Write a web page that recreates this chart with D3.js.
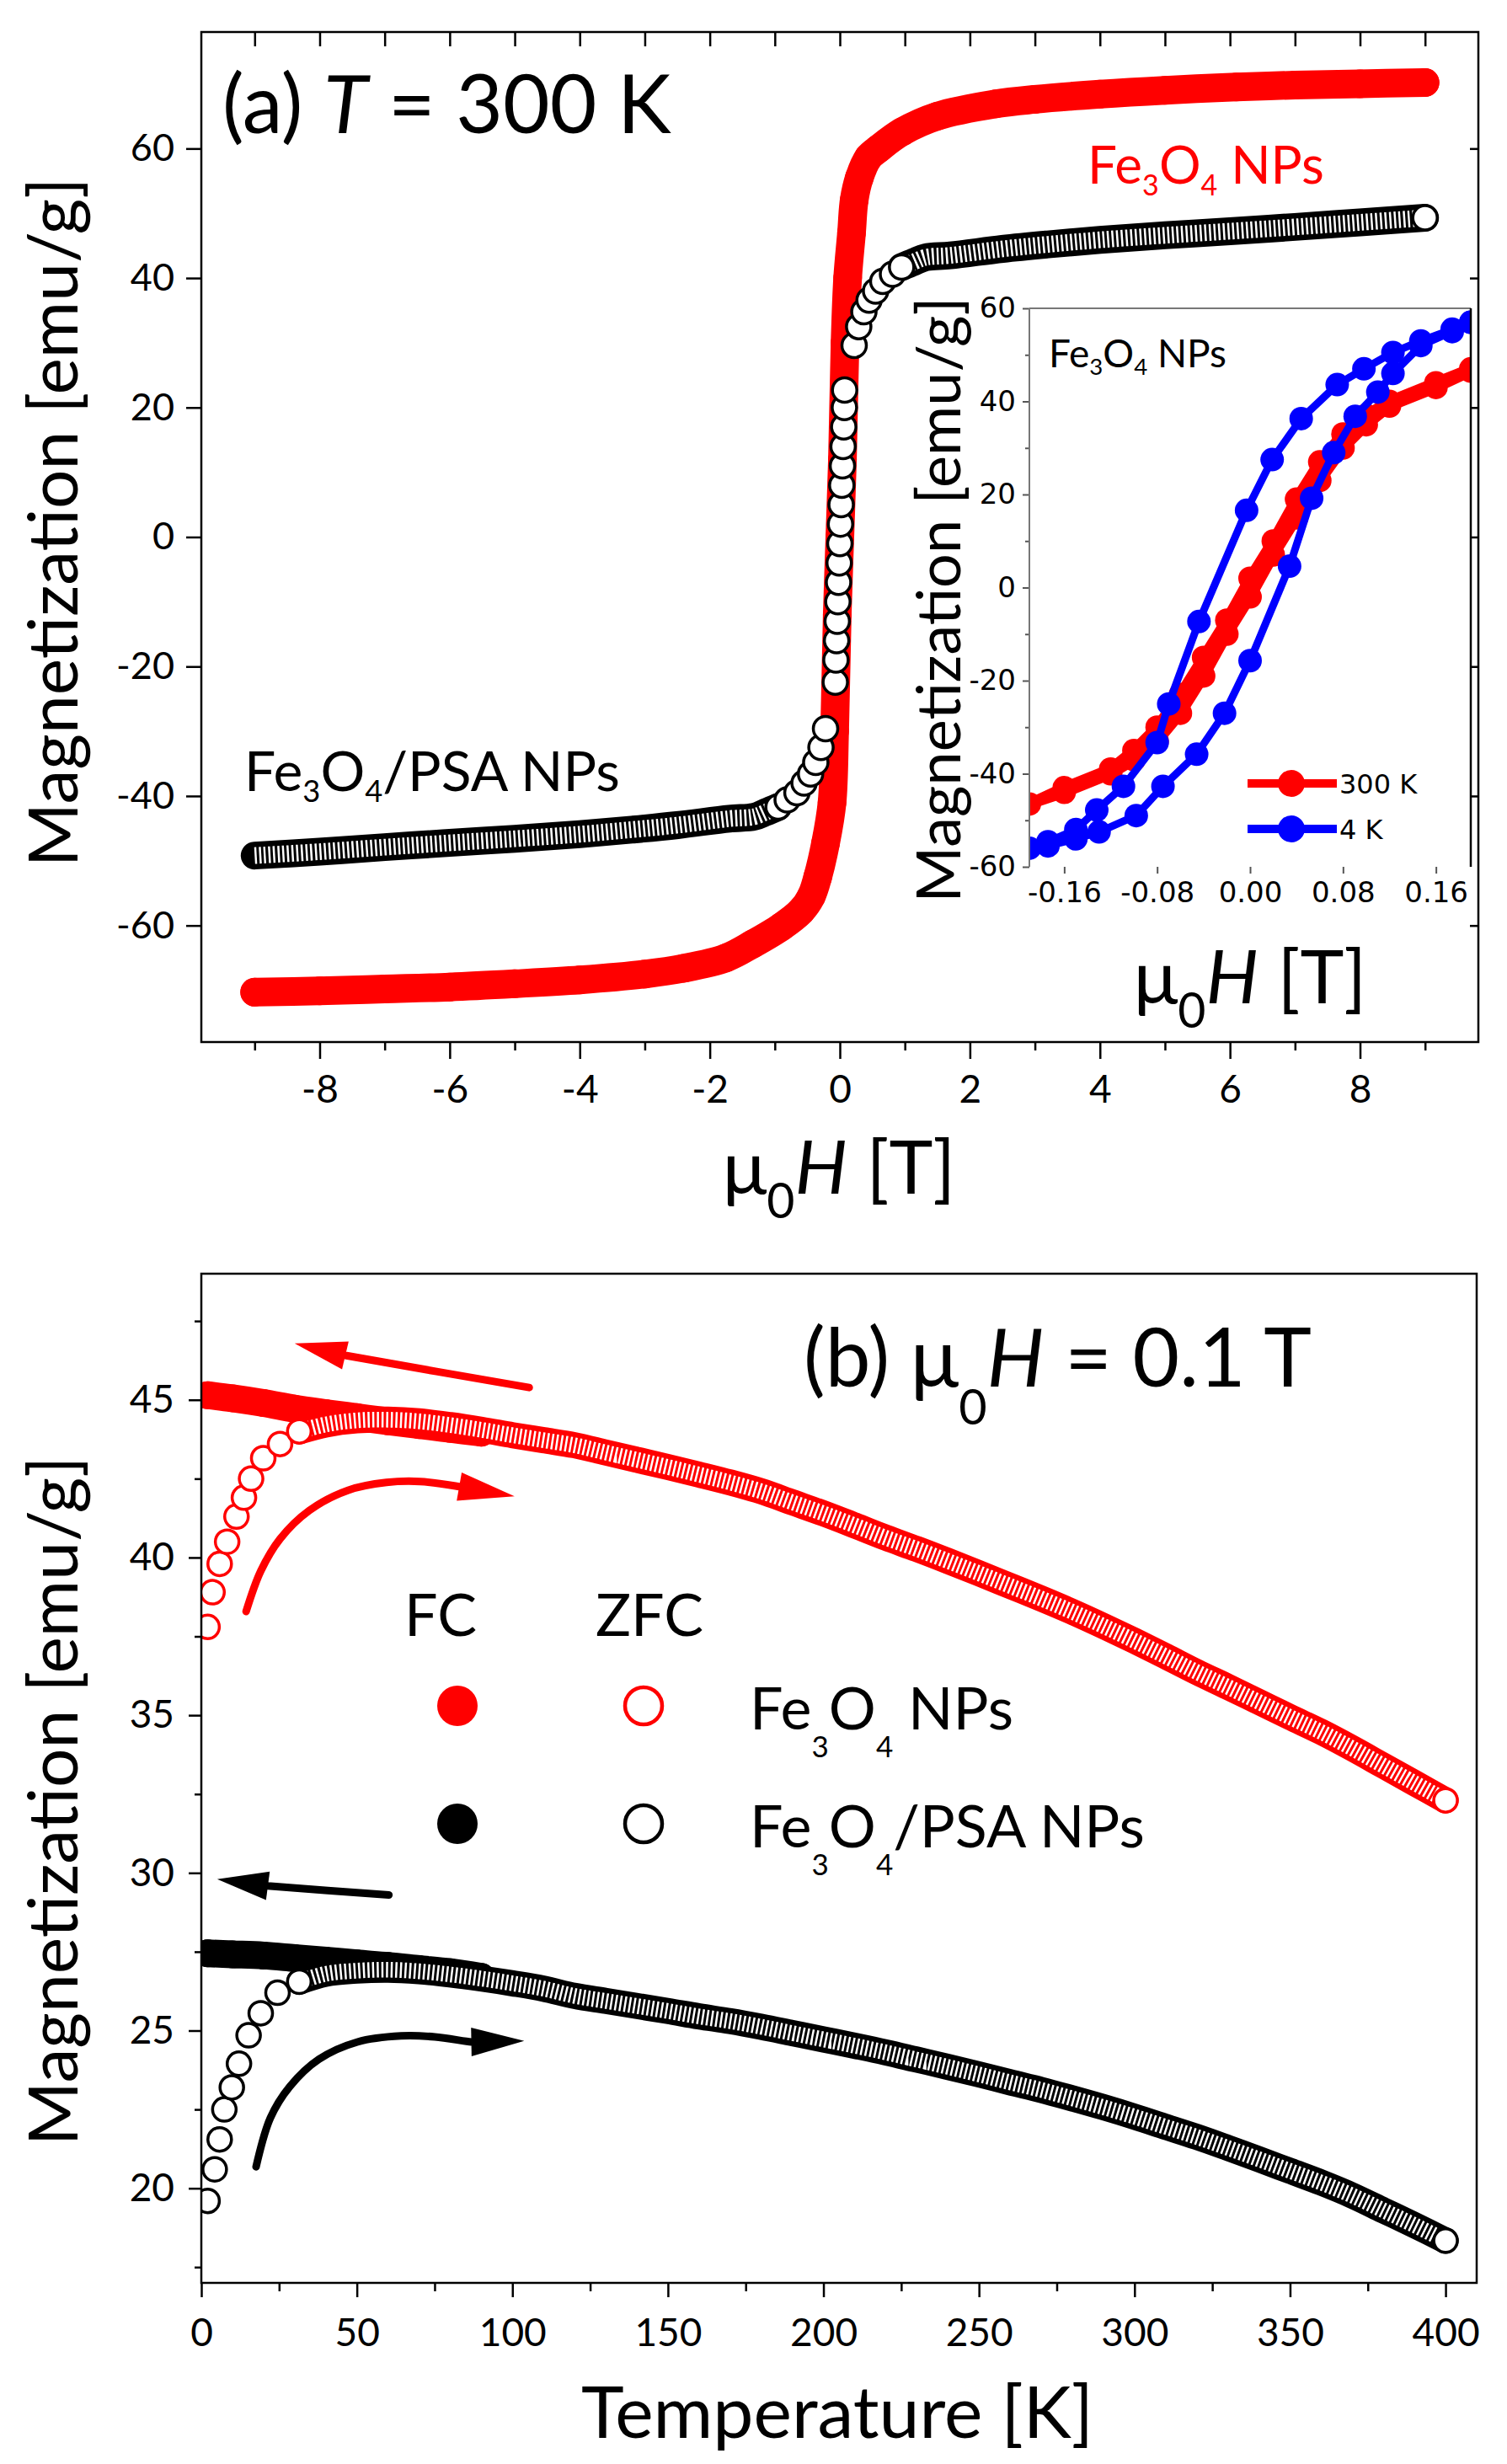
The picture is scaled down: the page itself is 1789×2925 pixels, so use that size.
<!DOCTYPE html>
<html>
<head>
<meta charset="utf-8">
<script src="https://cdn.jsdelivr.net/npm/d3@7"></script>
<style>
  body { margin: 0; background: #fff; }
  text { white-space: pre; }
</style>
</head>
<body>
<svg id="fig" width="1789" height="2925"></svg>
<script>
    // ---- panel (a): M(H) at 300 K, [H (T), M (emu/g)]
    var fe3o4Loop = [
      [-9, -70.3], [-8, -70.1], [-7, -69.8], [-6, -69.5], [-5, -69.0], [-4, -68.4], [-3, -67.5],
      [-2.4, -66.6], [-1.75, -65.0], [-1.33, -62.8], [-0.9, -60.2], [-0.6, -57.8], [-0.44, -55.5],
      [-0.34, -52.5], [-0.22, -47.3], [-0.12, -41], [-0.08, -30], [-0.04, -12], [0, 0],
      [0.04, 12], [0.08, 30], [0.12, 40], [0.18, 47], [0.22, 52], [0.3, 55.5], [0.44, 58.6],
      [0.6, 60], [0.96, 62.6], [1.5, 65], [2.4, 66.9], [3, 67.6], [4, 68.4], [5, 69],
      [6.1, 69.5], [7, 69.8], [8, 70], [9, 70.2]
    ];
    var psaLoop = [
      [-9, -49.2], [-8, -48.6], [-7, -47.9], [-6.1, -47.3], [-5, -46.6], [-4, -45.9], [-3.2, -45.2],
      [-2.5, -44.5], [-1.7, -43.5], [-1.32, -43.2], [-1.14, -42.5], [-0.95, -41.7], [-0.81, -40.6],
      [-0.66, -39.5], [-0.55, -38], [-0.45, -36.6], [-0.37, -34.8], [-0.29, -32.5], [-0.22, -29.6],
      [-0.07, -22.4], [-0.06, -19], [-0.05, -16], [-0.04, -13], [-0.03, -10], [-0.02, -7],
      [-0.01, -4], [0, -1], [0.01, 2], [0.02, 5], [0.03, 8], [0.04, 11], [0.05, 14], [0.06, 17],
      [0.07, 20], [0.074, 22.7], [0.22, 29.6], [0.29, 32.5], [0.37, 34.8], [0.45, 36.6],
      [0.55, 38], [0.66, 39.5], [0.81, 40.6], [0.95, 41.7], [1.14, 42.5], [1.32, 43.2],
      [1.7, 43.5], [2.5, 44.5], [3.2, 45.2], [4, 45.9], [5, 46.6], [6.1, 47.3], [7, 47.9],
      [8, 48.6], [9, 49.3]
    ];

    // inset: low field loops of Fe3O4 NPs
    var loop300K = [
      [0.19, 47], [0.16, 44], [0.12, 40], [0.10, 37], [0.08, 33], [0.06, 27], [0.04, 19],
      [0.02, 10], [0, 2], [-0.02, -7], [-0.04, -15], [-0.06, -23], [-0.08, -30], [-0.10, -35],
      [-0.12, -39], [-0.16, -43], [-0.19, -46.5],
      [-0.16, -44], [-0.12, -40], [-0.10, -37], [-0.08, -33], [-0.06, -27], [-0.04, -19],
      [-0.02, -10], [0, -2], [0.02, 7], [0.04, 15], [0.06, 23], [0.08, 30], [0.10, 35],
      [0.12, 39], [0.16, 43], [0.19, 46.5]
    ];
    var loop4K = [
      [0.19, 57], [0.174, 55.5], [0.147, 53], [0.123, 50.5], [0.098, 47], [0.075, 43.6],
      [0.044, 36.3], [0.019, 27.5], [-0.003, 16.6], [-0.044, -7.3], [-0.07, -25], [-0.08, -33.3],
      [-0.109, -42.7], [-0.132, -47.8], [-0.15, -52], [-0.174, -54.6], [-0.19, -56],
      [-0.174, -55.5], [-0.15, -54], [-0.13, -52.5], [-0.098, -49], [-0.075, -42.7],
      [-0.046, -35.8], [-0.022, -27], [0, -15.7], [0.034, 4.6], [0.053, 19.2], [0.072, 29],
      [0.0905, 36.8], [0.11, 42], [0.123, 46], [0.147, 52], [0.174, 55], [0.19, 57]
    ];

    // ---- panel (b): M(T) at 0.1 T, [T (K), M (emu/g)]
    var fe3o4FC = [
      [2, 45.15], [10, 45.05], [20, 44.9], [30, 44.72], [40, 44.58], [50, 44.45], [60, 44.32],
      [70, 44.2], [80, 44.08], [90, 43.96]
    ];
    var fe3o4ZFC = [
      [2, 37.8], [3.6, 38.9], [5.9, 39.8], [8.3, 40.5], [11.3, 41.3], [13.7, 41.9], [16, 42.5],
      [19.9, 43.15], [25.3, 43.6], [31.5, 44.0], [40, 44.22], [50, 44.35], [60, 44.37], [70, 44.32],
      [80, 44.2], [90, 44.05], [100, 43.88], [110, 43.72], [120, 43.56], [130, 43.33], [140, 43.1],
      [150, 42.87], [160, 42.63], [170, 42.38], [180, 42.1], [190, 41.75], [200, 41.4],
      [210, 41.02], [220, 40.63], [230, 40.27], [240, 39.89], [250, 39.5], [260, 39.1], [270, 38.7],
      [280, 38.28], [290, 37.83], [300, 37.36], [310, 36.87], [320, 36.37], [330, 35.9],
      [340, 35.42], [350, 34.94], [360, 34.47], [370, 33.95], [380, 33.4], [390, 32.85], [400, 32.3]
    ];
    var psaFC = [
      [2, 27.45], [10, 27.42], [20, 27.38], [30, 27.3], [40, 27.22], [50, 27.13], [60, 27.05],
      [70, 26.95], [80, 26.85], [90, 26.7]
    ];
    var psaZFC = [
      [2, 19.6], [4.3, 20.6], [5.9, 21.55], [7.4, 22.5], [9.8, 23.2], [12.1, 23.95], [15.2, 24.85],
      [19.1, 25.55], [24.5, 26.2], [31.5, 26.55], [40, 26.8], [50, 26.9], [60, 26.93], [70, 26.88],
      [80, 26.78], [90, 26.65], [100, 26.5], [110, 26.33], [120, 26.1], [130, 25.94], [140, 25.78],
      [150, 25.62], [160, 25.45], [170, 25.3], [180, 25.12], [190, 24.92], [200, 24.72],
      [210, 24.52], [220, 24.31], [230, 24.08], [240, 23.85], [250, 23.61], [260, 23.36],
      [270, 23.12], [280, 22.85], [290, 22.57], [300, 22.27], [310, 21.95], [320, 21.63],
      [330, 21.28], [340, 20.92], [350, 20.55], [360, 20.18], [370, 19.77], [380, 19.3],
      [390, 18.83], [400, 18.34]
    ];

    // sweep direction arrows (tail ... head base, tip) in data units of panel (b)
    var arrowCoolRed = [[105.4, 45.39], [46.3, 46.41], [30, 46.79]];
    var arrowWarmRed = [[14.4, 38.29], [19.1, 39.57], [25.3, 40.59], [34.7, 41.49], [47.1, 42.13],
      [59.5, 42.38], [70.4, 42.41], [82.9, 42.25], [100.7, 41.94]];
    var arrowCoolBlack = [[60.3, 29.3], [21.4, 29.59], [5.1, 29.8]];
    var arrowWarmBlack = [[17.6, 20.68], [22.2, 22.23], [28.4, 23.22], [37.8, 24.09], [50.2, 24.64],
      [64.2, 24.83], [75.1, 24.8], [86.8, 24.64], [103.8, 24.67]];

    // tick values
    var ticksHMajor = [-8, -6, -4, -2, 0, 2, 4, 6, 8];
    var ticksHMinor = [-9, -7, -5, -3, -1, 1, 3, 5, 7, 9];
    var ticksMA = [-60, -40, -20, 0, 20, 40, 60];
    var ticksInsetH = [-0.16, -0.08, 0, 0.08, 0.16];
    var ticksInsetM = [-60, -40, -20, 0, 20, 40, 60];
    var ticksInsetMMinor = [-50, -30, -10, 10, 30, 50];
    var ticksT = [0, 50, 100, 150, 200, 250, 300, 350, 400];
    var ticksTMinor = [25, 75, 125, 175, 225, 275, 325, 375];
    var ticksMB = [20, 25, 30, 35, 40, 45];
    var ticksMBMinor = [17.5, 22.5, 27.5, 32.5, 37.5, 42.5, 47.5];

    var RED = "#ff0000", BLUE = "#0000ff";
    var FONT = "Lato, 'Open Sans', sans-serif";
    var svg = d3.select("#fig");

    // text with _x subscripts and *x* italics
    function rich(g, str, x, y, size, o) {
      o = o || {};
      var t = g.append("text")
        .attr("x", x).attr("y", y)
        .attr("font-size", size)
        .attr("font-family", o.font || FONT)
        .attr("fill", o.fill || "#000")
        .attr("text-anchor", o.anchor || "start");
      if (o.rot) t.attr("transform", "rotate(-90," + x + "," + y + ")");
      var subDy = (o.subDy || 0.25) * size, cur = 0;
      str.split(/(_\w|\*[^*]+\*)/).forEach(function (p) {
        if (!p) return;
        var sub = p[0] === "_", it = p[0] === "*";
        var txt = sub ? p.slice(1) : it ? p.slice(1, -1) : p;
        var s = t.append("tspan").text(txt);
        var want = sub ? subDy : 0;
        if (want !== cur) { s.attr("dy", want - cur); cur = want; }
        if (sub) s.attr("font-size", size * (o.subScale || 0.6));
        if (it) s.attr("font-style", "italic");
      });
      return t;
    }

    function styleAxis(g, size, font) {
      g.select(".domain").remove();
      g.selectAll(".tick line").attr("stroke", "#000").attr("stroke-width", 2.5);
      g.selectAll(".tick text")
        .attr("font-family", font || FONT)
        .attr("font-size", size)
        .attr("fill", "#000");
    }

    // band through the points, used where markers overlap into a solid trace
    function band(g, x, y, data, color, width, hatch, keep) {
      var line = d3.line()
        .defined(keep || function () { return true; })
        .x(function (d) { return x(d[0]); })
        .y(function (d) { return y(d[1]); })
        .curve(d3.curveCatmullRom);
      g.append("path").attr("d", line(data))
        .attr("fill", "none").attr("stroke", color).attr("stroke-width", width)
        .attr("stroke-linecap", "round").attr("stroke-linejoin", "round");
      if (hatch) {
        g.append("path").attr("d", line(data))
          .attr("fill", "none").attr("stroke", "#fff").attr("stroke-width", width * 0.6)
          .attr("stroke-dasharray", "2.5,3");
      }
    }

    function dots(g, x, y, data, r, fill, stroke, sw) {
      g.selectAll(null).data(data).enter().append("circle")
        .attr("cx", function (d) { return x(d[0]); })
        .attr("cy", function (d) { return y(d[1]); })
        .attr("r", r)
        .attr("fill", fill)
        .attr("stroke", stroke || "none")
        .attr("stroke-width", sw || 0);
    }

    function arrow(g, x, y, pts, color) {
      var p = pts.map(function (d) { return [x(d[0]), y(d[1])]; });
      var tip = p[p.length - 1], base = p[p.length - 2];
      var dx = tip[0] - base[0], dy = tip[1] - base[1], L = Math.hypot(dx, dy);
      var ux = dx / L, uy = dy / L, hw = 17;
      g.append("path")
        .attr("d", d3.line().curve(d3.curveCatmullRom)(p.slice(0, -1).concat([[base[0] + ux * 5, base[1] + uy * 5]])))
        .attr("fill", "none").attr("stroke", color).attr("stroke-width", 9)
        .attr("stroke-linecap", "round");
      g.append("path")
        .attr("d", "M" + tip + "L" + [base[0] - uy * hw, base[1] + ux * hw] +
          "L" + [base[0] + uy * hw, base[1] - ux * hw] + "Z")
        .attr("fill", color);
    }

    // ================= panel (a) =================
    var xA = d3.scaleLinear().domain([-9.82, 9.82]).range([239, 1755]);
    var yA = d3.scaleLinear().domain([-78, 78]).range([1237, 38]);
    var gA = svg.append("g");

    gA.append("g").attr("transform", "translate(0,1237)")
      .call(d3.axisBottom(xA).tickValues(ticksHMajor).tickSize(20).tickPadding(19)
        .tickFormat(function (d) { return String(d); }))
      .call(styleAxis, 46);
    gA.append("g").attr("transform", "translate(0,1237)")
      .call(d3.axisBottom(xA).tickValues(ticksHMinor).tickSize(10).tickFormat(""))
      .call(styleAxis, 46);
    gA.append("g").attr("transform", "translate(0,38)")
      .call(d3.axisTop(xA).tickValues(ticksHMajor.concat(ticksHMinor)).tickSize(-17).tickFormat(""))
      .call(styleAxis, 46);
    gA.append("g").attr("transform", "translate(239,0)")
      .call(d3.axisLeft(yA).tickValues(ticksMA).tickSize(18).tickPadding(14)
        .tickFormat(function (d) { return String(d); }))
      .call(styleAxis, 45);
    gA.append("g").attr("transform", "translate(1755,0)")
      .call(d3.axisRight(yA).tickValues(ticksMA).tickSize(-10).tickFormat(""))
      .call(styleAxis, 45);

    // Fe3O4 NPs: filled red circles
    band(gA, xA, yA, fe3o4Loop, RED, 34);
    dots(gA, xA, yA, fe3o4Loop, 17, RED);
    // Fe3O4/PSA NPs: open black circles
    var far = function (d) { return Math.abs(d[0]) >= 0.95; };
    band(gA, xA, yA, psaLoop, "#000", 33, true, far);
    dots(gA, xA, yA, psaLoop.filter(function (d) { return Math.abs(d[0]) < 1.0; }), 14.5, "#fff", "#000", 3.5);
    dots(gA, xA, yA, [psaLoop[psaLoop.length - 1]], 14.5, "#fff", "#000", 3.5);

    gA.append("rect").attr("x", 239).attr("y", 38).attr("width", 1516).attr("height", 1199)
      .attr("fill", "none").attr("stroke", "#000").attr("stroke-width", 2.5);

    rich(gA, "(a) *T* = 300 K", 264, 158, 96);
    rich(gA, "Fe_3O_4 NPs", 1291, 218, 62, { fill: RED, subDy: 0.22, subScale: 0.55 });
    rich(gA, "Fe_3O_4/PSA NPs", 290, 939, 66, { subDy: 0.2, subScale: 0.55 });
    rich(gA, "μ_0*H* [T]", 996, 1417, 88, { anchor: "middle", subDy: 0.33, subScale: 0.65 });
    rich(gA, "Magnetization [emu/g]", 92, 620, 82, { anchor: "middle", rot: true });

    // ---- inset ----
    var xI = d3.scaleLinear().domain([-0.19, 0.19]).range([1222, 1746]);
    var yI = d3.scaleLinear().domain([-60, 60]).range([1029, 366]);
    var gI = svg.append("g");
    gI.append("rect").attr("x", 1222).attr("y", 366).attr("width", 524).attr("height", 663).attr("fill", "#fff");
    gI.append("g").attr("transform", "translate(1222,0)")
      .call(d3.axisLeft(yI).tickValues(ticksInsetM).tickSize(8).tickPadding(8)
        .tickFormat(function (d) { return String(d); }))
      .call(styleAxis, 34, "'DejaVu Sans', sans-serif");
    gI.append("g").attr("transform", "translate(1222,0)")
      .call(d3.axisLeft(yI).tickValues(ticksInsetMMinor).tickSize(5).tickFormat(""))
      .call(styleAxis, 34);
    gI.append("g").attr("transform", "translate(0,1029)")
      .call(d3.axisBottom(xI).tickValues(ticksInsetH).tickSize(8).tickPadding(10)
        .tickFormat(function (d) { return d.toFixed(2); }))
      .call(styleAxis, 34, "'DejaVu Sans', sans-serif");
    gI.selectAll(".tick line").attr("stroke-width", 2).attr("stroke", "#555");

    var clipI = gI.append("clipPath").attr("id", "clipI");
    clipI.append("rect").attr("x", 1222).attr("y", 366).attr("width", 524).attr("height", 663);
    var gIData = gI.append("g").attr("clip-path", "url(#clipI)");
    var lineI = d3.line().x(function (d) { return xI(d[0]); }).y(function (d) { return yI(d[1]); });
    gIData.append("path").attr("d", lineI(loop300K)).attr("fill", "none")
      .attr("stroke", RED).attr("stroke-width", 13).attr("stroke-linejoin", "round");
    dots(gIData, xI, yI, loop300K, 14, RED);
    gIData.append("path").attr("d", lineI(loop4K)).attr("fill", "none")
      .attr("stroke", BLUE).attr("stroke-width", 9).attr("stroke-linejoin", "round");
    dots(gIData, xI, yI, loop4K, 14, BLUE);

    gI.append("line").attr("x1", 1222).attr("x2", 1222).attr("y1", 366).attr("y2", 1029)
      .attr("stroke", "#777").attr("stroke-width", 2);
    gI.append("line").attr("x1", 1222).attr("x2", 1746).attr("y1", 366).attr("y2", 366)
      .attr("stroke", "#777").attr("stroke-width", 2);
    gI.append("line").attr("x1", 1746).attr("x2", 1746).attr("y1", 366).attr("y2", 1029)
      .attr("stroke", "#000").attr("stroke-width", 2.5);

    // inset legend
    [[RED, 930, "300 K"], [BLUE, 984, "4 K"]].forEach(function (l) {
      gI.append("line").attr("x1", 1481).attr("x2", 1587).attr("y1", l[1]).attr("y2", l[1])
        .attr("stroke", l[0]).attr("stroke-width", 10);
      gI.append("circle").attr("cx", 1533).attr("cy", l[1]).attr("r", 16).attr("fill", l[0]);
      gI.append("text").attr("x", 1590).attr("y", l[1] + 12).attr("font-size", 32)
        .attr("font-family", "'DejaVu Sans', sans-serif").text(l[2]);
    });
    rich(gI, "Fe_3O_4 NPs", 1245, 436, 46, { subDy: 0.2, subScale: 0.6 });
    rich(gI, "μ_0*H* [T]", 1484, 1191, 88, { anchor: "middle", subDy: 0.33, subScale: 0.65 });
    rich(gI, "Magnetization [emu/g]", 1140, 712, 72, { anchor: "middle", rot: true });

    // ================= panel (b) =================
    var xB = d3.scaleLinear().domain([0, 410]).range([239, 1753]);
    var yB = d3.scaleLinear().domain([17, 49]).range([2710, 1512]);
    var gB = svg.append("g");

    gB.append("g").attr("transform", "translate(0,2710)")
      .call(d3.axisBottom(xB).tickValues(ticksT).tickSize(17).tickPadding(25))
      .call(styleAxis, 46);
    gB.append("g").attr("transform", "translate(0,2710)")
      .call(d3.axisBottom(xB).tickValues(ticksTMinor).tickSize(10).tickFormat(""))
      .call(styleAxis, 46);
    gB.append("g").attr("transform", "translate(239,0)")
      .call(d3.axisLeft(yB).tickValues(ticksMB).tickSize(15).tickPadding(17))
      .call(styleAxis, 46);
    gB.append("g").attr("transform", "translate(239,0)")
      .call(d3.axisLeft(yB).tickValues(ticksMBMinor).tickSize(8).tickFormat(""))
      .call(styleAxis, 46);

    var clipB = gB.append("clipPath").attr("id", "clipB");
    clipB.append("rect").attr("x", 239).attr("y", 1512).attr("width", 1514).attr("height", 1198);
    var gBData = gB.append("g").attr("clip-path", "url(#clipB)");

    var dense = function (d) { return d[0] >= 31; };
    [[fe3o4FC, fe3o4ZFC, RED], [psaFC, psaZFC, "#000"]].forEach(function (s) {
      band(gBData, xB, yB, s[0], s[2], 33);
      dots(gBData, xB, yB, s[0], 16.5, s[2]);
      band(gBData, xB, yB, s[1], s[2], 31, true, dense);
      dots(gBData, xB, yB, s[1].filter(function (d) { return d[0] < 35; }), 14, "#fff", s[2], 3.5);
      dots(gBData, xB, yB, [s[1][s[1].length - 1]], 14, "#fff", s[2], 3.5);
    });

    arrow(gBData, xB, yB, arrowCoolRed, RED);
    arrow(gBData, xB, yB, arrowWarmRed, RED);
    arrow(gBData, xB, yB, arrowCoolBlack, "#000");
    arrow(gBData, xB, yB, arrowWarmBlack, "#000");

    gB.append("rect").attr("x", 239).attr("y", 1512).attr("width", 1514).attr("height", 1198)
      .attr("fill", "none").attr("stroke", "#000").attr("stroke-width", 2.5);

    // legend
    rich(gB, "FC", 523, 1942, 70, { anchor: "middle" });
    rich(gB, "ZFC", 771, 1942, 70, { anchor: "middle" });
    gB.append("circle").attr("cx", 543).attr("cy", 2025).attr("r", 24).attr("fill", RED);
    gB.append("circle").attr("cx", 764).attr("cy", 2025).attr("r", 22).attr("fill", "#fff")
      .attr("stroke", RED).attr("stroke-width", 4.5);
    gB.append("circle").attr("cx", 543).attr("cy", 2165).attr("r", 24).attr("fill", "#000");
    gB.append("circle").attr("cx", 764).attr("cy", 2165).attr("r", 22).attr("fill", "#fff")
      .attr("stroke", "#000").attr("stroke-width", 4.5);
    rich(gB, "Fe_3O_4 NPs", 890, 2053, 70, { subDy: 0.47, subScale: 0.5 });
    rich(gB, "Fe_3O_4/PSA NPs", 890, 2193, 70, { subDy: 0.47, subScale: 0.5 });

    rich(gB, "(b) μ_0*H* = 0.1 T", 954, 1646, 96, { subDy: 0.47, subScale: 0.6 });
    rich(gB, "Temperature [K]", 994, 2894, 86, { anchor: "middle" });
    rich(gB, "Magnetization [emu/g]", 92, 2138, 82, { anchor: "middle", rot: true });
</script>
</body>
</html>
